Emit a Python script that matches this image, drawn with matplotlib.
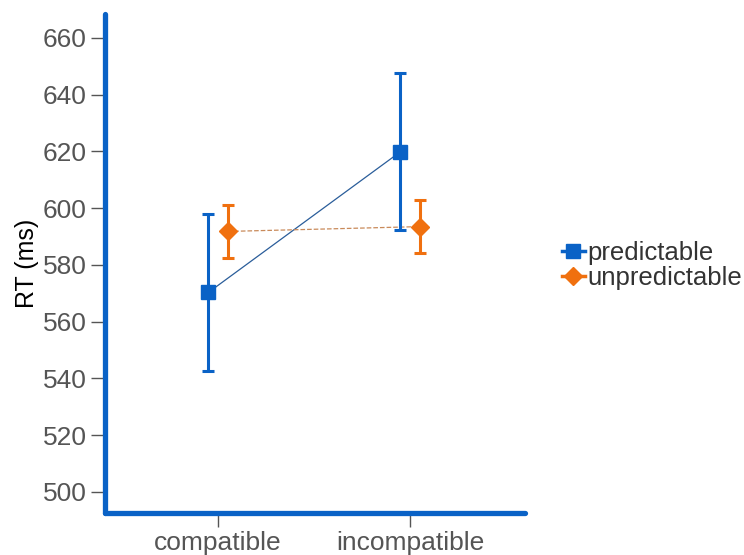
import numpy as np
import matplotlib.pyplot as plt
from matplotlib.lines import Line2D

conditions = ["compatible", "incompatible"]
series = ["predictable", "unpredictable"]
pred_mean = [570.3, 619.9]
pred_err = [27.6, 27.6]
unpred_mean = [591.8, 593.5]
unpred_err = [9.4, 9.4]

blue = "#0a62c6"
orange = "#f0700f"
gray = "#555555"

plt.rcParams["font.family"] = ["Liberation Sans", "DejaVu Sans"]

fig = plt.figure(figsize=(7.44, 5.55), dpi=100)
ax = fig.add_axes([0.141, 0.076, 0.565, 0.899])

x = np.arange(1, len(conditions) + 1)
off = 0.05

ax.plot(x - off, pred_mean, "-", color="#2a5d9a", lw=0.9, zorder=2)
ax.plot(x + off, unpred_mean, "--", color="#c98a5a", lw=0.9, zorder=2)
ax.errorbar(x - off, pred_mean, yerr=pred_err, fmt="s", color=blue, ms=10.5,
            elinewidth=2.2, capsize=4, capthick=2.2, zorder=3)
ax.errorbar(x + off, unpred_mean, yerr=unpred_err, fmt="D", color=orange, ms=9.5,
            elinewidth=2.2, capsize=4, capthick=2.2, zorder=3)

ax.set_xlim(0.411, 2.6)
ax.set_ylim(492.6, 668.5)
ax.set_xticks(x)
ax.set_xticklabels(conditions)
ax.set_yticks(np.arange(500, 661, 20))
ax.set_ylabel("RT (ms)", fontsize=18, color="black", labelpad=3)

ax.tick_params(axis="both", labelsize=19, colors=gray, length=10, width=1,
               pad=3)
for lab in ax.get_xticklabels() + ax.get_yticklabels():
    lab.set_color(gray)

for s in ["top", "right"]:
    ax.spines[s].set_visible(False)
for s in ["left", "bottom"]:
    ax.spines[s].set_color(blue)
    ax.spines[s].set_linewidth(3.8)
    ax.spines[s].set_capstyle("round")

handles = [
    Line2D([], [], color=blue, marker="s", ms=10, lw=2.5),
    Line2D([], [], color=orange, marker="D", ms=9, lw=2.5),
]
leg = fig.legend(handles, series, loc="center left", bbox_to_anchor=(0.738, 0.522),
                 frameon=False, fontsize=18.5, handlelength=0.9, handletextpad=0.1,
                 labelspacing=0.05, borderpad=0)
for t in leg.get_texts():
    t.set_color("#333333")

fig.savefig("out.png", dpi=100)
